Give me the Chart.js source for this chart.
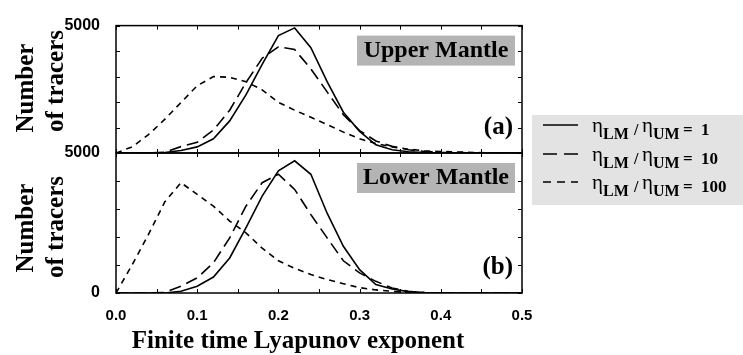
<!DOCTYPE html>
<html>
<head>
<meta charset="utf-8">
<script src="https://cdn.jsdelivr.net/npm/chart.js@4.4.1/dist/chart.umd.min.js"></script>
<style>
  html, body { margin: 0; padding: 0; background: #fff; overflow: hidden; }
  #wrap { position: relative; width: 743px; height: 355px; }
  #wrap canvas { position: absolute; left: 0; top: 0; }
</style>
</head>
<body>
<div id="wrap">
  <canvas id="upper" width="743" height="355"></canvas>
  <canvas id="lower" width="743" height="355"></canvas>
</div>
<script>
// Finite time Lyapunov exponent bins (histogram centres)
const lyapunovExponent = [0.00, 0.02, 0.04, 0.06, 0.08, 0.10, 0.12, 0.14, 0.16, 0.18,
                          0.20, 0.22, 0.24, 0.26, 0.28, 0.30, 0.32, 0.34, 0.36, 0.38,
                          0.40, 0.42, 0.44, 0.46, 0.48, 0.50];

// Upper mantle tracer counts for eta_LM / eta_UM = 1, 10, 100
const upperRatio1   = [0, 0, 5, 20, 100, 240, 560, 1260, 2280, 3480,
                       4610, 4910, 4130, 2800, 1600, 850, 320, 130, 50, 20,
                       10, 5, 0, 0, 0, 0];
const upperRatio10  = [0, 0, 5, 30, 250, 420, 900, 1680, 2760, 3720,
                       4170, 4060, 3300, 2400, 1500, 880, 470, 260, 130, 60,
                       30, 15, 10, 5, 0, 0];
const upperRatio100 = [0, 240, 720, 1320, 1980, 2640, 3000, 2970, 2800, 2480,
                       1990, 1680, 1400, 1120, 820, 560, 370, 240, 150, 90,
                       60, 40, 20, 10, 5, 0];

// Lower mantle tracer counts for eta_LM / eta_UM = 1, 10, 100
const lowerRatio1   = [0, 0, 0, 0, 60, 240, 570, 1250, 2330, 3460,
                       4360, 4720, 4240, 2850, 1670, 835, 300, 140, 50, 20,
                       5, 0, 0, 0, 0, 0];
const lowerRatio10  = [0, 0, 0, 20, 240, 540, 1080, 1970, 3100, 3940,
                       4240, 3700, 2800, 1970, 1150, 717, 416, 180, 60, 15,
                       5, 0, 0, 0, 0, 0];
const lowerRatio100 = [0, 1010, 2090, 3250, 3940, 3520, 3100, 2570, 2150, 1600,
                       1150, 880, 660, 480, 330, 190, 110, 60, 20, 10,
                       5, 0, 0, 0, 0, 0];

const viscosityRatios = ['1', '10', '100'];
const xTickLabels = ['0.0', '0.1', '0.2', '0.3', '0.4', '0.5'];
const upperYLabels = { 5000: '5000' };
const lowerYLabels = { 5000: '5000', 0: '0' };
const panelNames = ['Upper Mantle', 'Lower Mantle'];
const panelTags = ['(a)', '(b)'];
const yAxisTitle = ['Number', 'of tracers'];
const xAxisTitle = 'Finite time Lyapunov exponent';

const LONG_DASH = [12, 6];
const SHORT_DASH = [6, 5];
const SERIF = '"Liberation Serif", "Times New Roman", serif';
const SANS = '"Liberation Sans", Arial, sans-serif';

function series(values, dash) {
  return {
    data: lyapunovExponent.map((x, i) => ({ x: x, y: values[i] })),
    borderColor: '#000',
    borderWidth: 1.6,
    borderDash: dash,
    pointRadius: 0,
    fill: false,
    tension: 0
  };
}

// Box frame with inward tick marks, plus panel captions
const panelDecor = {
  id: 'panelDecor',
  afterDatasetsDraw(chart, args, opts) {
    const { ctx, chartArea: a, scales: { x, y } } = chart;
    ctx.save();
    ctx.strokeStyle = '#000';
    ctx.lineWidth = 1.5;
    ctx.strokeRect(a.left, a.top, a.right - a.left, a.bottom - a.top);
    ctx.lineWidth = 1;
    ctx.beginPath();
    for (let k = 0; k <= 10; k++) {
      const px = Math.round(x.getPixelForValue(k * 0.05)) + 0.5;
      ctx.moveTo(px, a.bottom); ctx.lineTo(px, a.bottom - 4);
      ctx.moveTo(px, a.top); ctx.lineTo(px, a.top + 4);
    }
    for (let v = 0; v <= 5000; v += 1000) {
      const py = Math.round(y.getPixelForValue(v)) + 0.5;
      ctx.moveTo(a.left, py); ctx.lineTo(a.left + 4, py);
      ctx.moveTo(a.right, py); ctx.lineTo(a.right - 4, py);
    }
    ctx.stroke();

    // region name in a grey box
    ctx.fillStyle = '#b4b4b4';
    ctx.fillRect(357, a.top + opts.boxOffset, 158, 30);
    ctx.fillStyle = '#000';
    ctx.font = 'bold 24px ' + SERIF;
    ctx.textAlign = 'center';
    ctx.textBaseline = 'alphabetic';
    ctx.fillText(opts.name, 436, a.top + opts.boxOffset + 21);

    // panel tag
    ctx.textAlign = 'right';
    ctx.font = 'bold 25px ' + SERIF;
    ctx.fillText(opts.tag, a.right - 9, a.bottom - 19);

    // y axis title
    ctx.font = 'bold 25px ' + SERIF;
    ctx.textAlign = 'center';
    ctx.translate(33, opts.titleY[0]);
    ctx.rotate(-Math.PI / 2);
    ctx.fillText(yAxisTitle[0], 0, 0);
    ctx.rotate(Math.PI / 2);
    ctx.translate(30, opts.titleY[1] - opts.titleY[0]);
    ctx.rotate(-Math.PI / 2);
    ctx.fillText(yAxisTitle[1], 0, 0);
    ctx.restore();
  }
};

// Legend and x axis title
const sharedDecor = {
  id: 'sharedDecor',
  afterDraw(chart) {
    const { ctx } = chart;
    ctx.save();
    ctx.fillStyle = '#e3e3e3';
    ctx.fillRect(532, 115, 211, 90);

    const rows = [135, 164, 192];
    chart.data.datasets.forEach((ds, i) => {
      const base = rows[i];
      ctx.strokeStyle = '#000';
      ctx.lineWidth = 1.6;
      ctx.setLineDash(i === 0 ? [] : (i === 1 ? [14, 7] : [8, 6]));
      ctx.beginPath();
      ctx.moveTo(543, base - 10);
      ctx.lineTo(578, base - 10);
      ctx.stroke();
      ctx.setLineDash([]);

      ctx.fillStyle = '#000';
      ctx.textAlign = 'left';
      ctx.textBaseline = 'alphabetic';
      const x0 = 592;
      ctx.font = '21px ' + SERIF;
      ctx.fillText('η', x0, base - 3);
      ctx.font = 'bold 16px ' + SERIF;
      ctx.fillText('LM', x0 + 11, base + 4);
      ctx.fillText('/', x0 + 42, base);
      ctx.font = '21px ' + SERIF;
      ctx.fillText('η', x0 + 50, base - 3);
      ctx.font = 'bold 16px ' + SERIF;
      ctx.fillText('UM', x0 + 61, base + 4);
      ctx.font = 'bold 17px ' + SERIF;
      ctx.fillText('=', x0 + 91, base);
      ctx.fillText(viscosityRatios[i], x0 + 109, base);
    });

    ctx.font = 'bold 25px ' + SERIF;
    ctx.textAlign = 'center';
    ctx.fillText(xAxisTitle, 298, 348);
    ctx.restore();
  }
};

function makeOptions(isLower) {
  const labels = isLower ? lowerYLabels : upperYLabels;
  return {
    responsive: false,
    animation: false,
    devicePixelRatio: 1,
    layout: { padding: isLower ? { left: 0, right: 221, top: 153, bottom: 0 }
                               : { left: 0, right: 221, top: 14, bottom: 202 } },
    plugins: {
      legend: { display: false },
      tooltip: { enabled: false },
      panelDecor: isLower
        ? { name: panelNames[1], tag: panelTags[1], boxOffset: 10, titleY: [228, 227] }
        : { name: panelNames[0], tag: panelTags[0], boxOffset: 10, titleY: [88, 81] }
    },
    scales: {
      x: {
        type: 'linear', min: 0, max: 0.5,
        grid: { display: false, drawTicks: false },
        border: { display: false },
        ticks: {
          display: isLower, stepSize: 0.1, padding: 14, color: '#000',
          font: { family: SANS, size: 15, weight: 'bold' },
          callback: v => xTickLabels[Math.round(v * 10)]
        },
        afterFit: s => { s.height = isLower ? 62 : 0; }
      },
      y: {
        min: 0, max: 5000,
        grid: { display: false, drawTicks: false },
        border: { display: false },
        ticks: {
          stepSize: 1000, autoSkip: false, padding: 16, color: '#000',
          font: { family: SANS, size: 16, weight: 'bold' },
          callback: v => labels[v] || ''
        },
        afterFit: s => { s.width = 116; }
      }
    }
  };
}

new Chart(document.getElementById('upper'), {
  type: 'line',
  data: { datasets: [series(upperRatio1, []), series(upperRatio10, LONG_DASH), series(upperRatio100, SHORT_DASH)] },
  options: makeOptions(false),
  plugins: [panelDecor]
});

new Chart(document.getElementById('lower'), {
  type: 'line',
  data: { datasets: [series(lowerRatio1, []), series(lowerRatio10, LONG_DASH), series(lowerRatio100, SHORT_DASH)] },
  options: makeOptions(true),
  plugins: [panelDecor, sharedDecor]
});
</script>
</body>
</html>
